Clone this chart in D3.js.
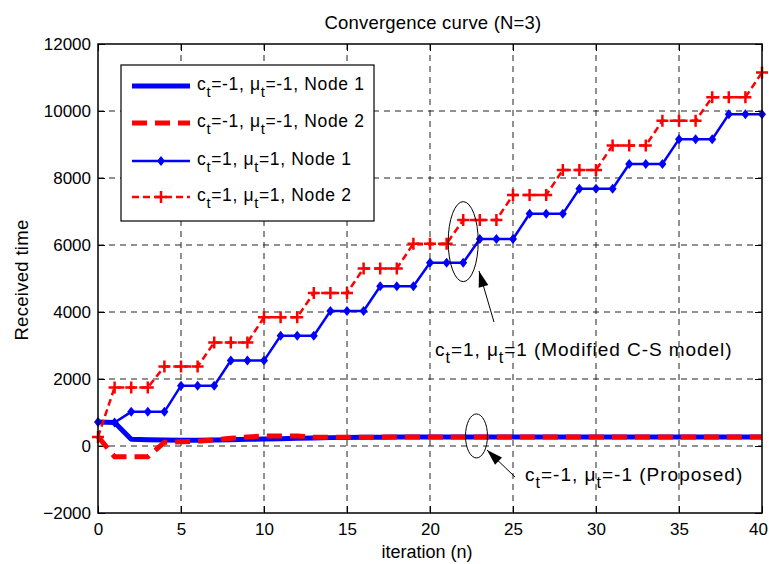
<!DOCTYPE html>
<html>
<head>
<meta charset="utf-8">
<script src="https://cdn.jsdelivr.net/npm/d3@7"></script>
<style>
  body { margin: 0; background: #fff; }
  text { font-family: "Liberation Sans", Arial, sans-serif; fill: #000; }
</style>
</head>
<body>
<svg id="chart" width="769" height="564"></svg>
<script>
// iterations 0..40
const iterations = d3.range(0, 41);

// c_t=-1, mu_t=-1 (proposed)
const proposedNode1 = [720, 700, 200, 190, 180, 170, 170, 180, 190, 200, 210, 220, 230, 240, 250, 255, 260, 260, 265, 265,
  270, 270, 270, 270, 270, 270, 270, 270, 270, 270, 270, 270, 270, 270, 270, 270, 270, 270, 270, 270, 270];
const proposedNode2 = [280, -320, -320, -320, 110, 130, 140, 180, 230, 270, 300, 300, 300, 260, 260, 260, 260, 265, 265, 265,
  270, 270, 270, 270, 270, 270, 270, 270, 270, 270, 270, 270, 270, 270, 270, 270, 270, 270, 270, 270, 270];

// c_t=1, mu_t=1 (modified C-S model)
const csNode1 = [720, 700, 1020, 1020, 1020, 1800, 1800, 1800, 2550, 2550, 2550, 3290, 3290, 3290, 4030, 4030, 4030,
  4770, 4770, 4770, 5470, 5470, 5470, 6180, 6180, 6180, 6930, 6930, 6930, 7680, 7680, 7680, 8420, 8420, 8420,
  9160, 9160, 9160, 9900, 9900, 9900];
const csNode2 = [270, 1750, 1750, 1750, 2370, 2370, 2370, 3090, 3090, 3090, 3840, 3840, 3840, 4570, 4570, 4570,
  5300, 5300, 5300, 6040, 6040, 6040, 6750, 6750, 6750, 7490, 7490, 7490, 8240, 8240, 8240, 8970, 8970, 8970,
  9710, 9710, 9710, 10410, 10410, 10410, 11150];

const xTicks = [0, 5, 10, 15, 20, 25, 30, 35, 40];
const yTicks = [-2000, 0, 2000, 4000, 6000, 8000, 10000, 12000];

const svg = d3.select('#chart');
const pL = 98, pR = 762, pT = 44, pB = 513;

const x = d3.scaleLinear().domain([0, 40]).range([pL, pR]);
const y = d3.scaleLinear().domain([-2000, 12000]).range([pB, pT]);

// grid
const grid = svg.append('g')
  .attr('stroke', '#222')
  .attr('stroke-width', 1)
  .attr('stroke-dasharray', '6,5');
grid.selectAll('line.vx')
  .data(xTicks.slice(1, -1))
  .join('line')
  .attr('class', 'vx')
  .attr('x1', d => x(d)).attr('x2', d => x(d))
  .attr('y1', pT).attr('y2', pB);
grid.selectAll('line.hy')
  .data(yTicks.slice(1, -1))
  .join('line')
  .attr('class', 'hy')
  .attr('x1', pL).attr('x2', pR)
  .attr('y1', d => y(d)).attr('y2', d => y(d));

// axes, ticks inward on all four sides
const tickLen = 7;
svg.append('g')
  .attr('class', 'xaxis')
  .attr('transform', `translate(0,${pB})`)
  .call(d3.axisBottom(x).tickValues(xTicks).tickSize(-tickLen).tickPadding(10))
  .call(g => g.select('.domain').remove());
svg.append('g')
  .attr('transform', `translate(0,${pT})`)
  .call(d3.axisTop(x).tickValues(xTicks).tickSize(-tickLen).tickFormat(''))
  .call(g => g.select('.domain').remove());
svg.append('g')
  .attr('transform', `translate(${pL},0)`)
  .call(d3.axisLeft(y).tickValues(yTicks).tickSize(-tickLen).tickPadding(7).tickFormat(d3.format('d')))
  .call(g => g.select('.domain').remove());
svg.append('g')
  .attr('transform', `translate(${pR},0)`)
  .call(d3.axisRight(y).tickValues(yTicks).tickSize(-tickLen).tickFormat(''))
  .call(g => g.select('.domain').remove());
svg.selectAll('.tick text')
  .attr('font-size', 17)
  .attr('font-family', '"Liberation Sans", Arial, sans-serif')
  .attr('fill', '#000');
svg.selectAll('.tick line').attr('stroke', '#000');
// last x label sits just inside the page edge
svg.selectAll('.xaxis .tick text').filter(d => d === 40).attr('dx', -4);

const line = d3.line()
  .x((d, i) => x(iterations[i]))
  .y(d => y(d));

const plot = svg.append('g');

plot.append('path')
  .datum(proposedNode1)
  .attr('d', line)
  .attr('fill', 'none')
  .attr('stroke', '#0000ff')
  .attr('stroke-width', 5)
  .attr('stroke-linejoin', 'round');
plot.append('path')
  .datum(proposedNode2)
  .attr('d', line)
  .attr('fill', 'none')
  .attr('stroke', '#ff0000')
  .attr('stroke-width', 5)
  .attr('stroke-dasharray', '15,8');

plot.append('path')
  .datum(csNode1)
  .attr('d', line)
  .attr('fill', 'none')
  .attr('stroke', '#0000ff')
  .attr('stroke-width', 2.5);
plot.selectAll('path.dia')
  .data(csNode1)
  .join('path')
  .attr('class', 'dia')
  .attr('transform', (d, i) => `translate(${x(iterations[i])},${y(d)})`)
  .attr('d', 'M0,-5L4,0L0,5L-4,0Z')
  .attr('fill', '#0000ff');

plot.append('path')
  .datum(csNode2)
  .attr('d', line)
  .attr('fill', 'none')
  .attr('stroke', '#ff0000')
  .attr('stroke-width', 2.5)
  .attr('stroke-dasharray', '7,4');
plot.selectAll('path.plus')
  .data(csNode2)
  .join('path')
  .attr('class', 'plus')
  .attr('transform', (d, i) => `translate(${x(iterations[i])},${y(d)})`)
  .attr('d', 'M-6,0H6M0,-6V6')
  .attr('stroke', '#ff0000')
  .attr('stroke-width', 2.5);

// frame
svg.append('rect')
  .attr('x', pL).attr('y', pT)
  .attr('width', pR - pL).attr('height', pB - pT)
  .attr('fill', 'none')
  .attr('stroke', '#000')
  .attr('stroke-width', 1.5);

// text with subscripts
function ctLabel(sel, c, mu, tail) {
  sel.append('tspan').text('c');
  sel.append('tspan').attr('dy', 7).attr('font-size', '0.85em').text('t');
  sel.append('tspan').attr('dy', -7).text(`=${c}, \u03bc`);
  sel.append('tspan').attr('dy', 7).attr('font-size', '0.85em').text('t');
  sel.append('tspan').attr('dy', -7).text(`=${mu}${tail}`);
}

// legend
const legend = svg.append('g');
legend.append('rect')
  .attr('x', 121).attr('y', 65)
  .attr('width', 253).attr('height', 156)
  .attr('fill', '#fff')
  .attr('stroke', '#000')
  .attr('stroke-width', 1.2);

const legendRows = [
  { c: '-1', mu: '-1', node: 'Node 1', color: '#0000ff', width: 5, dash: null, marker: null },
  { c: '-1', mu: '-1', node: 'Node 2', color: '#ff0000', width: 5, dash: '15,8', marker: null },
  { c: '1', mu: '1', node: 'Node 1', color: '#0000ff', width: 2.5, dash: null, marker: 'dia' },
  { c: '1', mu: '1', node: 'Node 2', color: '#ff0000', width: 2.5, dash: '7,4', marker: 'plus' }
];
const rowY = [86, 123, 161, 197];

legendRows.forEach((r, i) => {
  const yy = rowY[i];
  legend.append('line')
    .attr('x1', 132).attr('x2', 190)
    .attr('y1', yy).attr('y2', yy)
    .attr('stroke', r.color)
    .attr('stroke-width', r.width)
    .attr('stroke-dasharray', r.dash);
  if (r.marker === 'dia') {
    legend.append('path')
      .attr('transform', `translate(161,${yy})`)
      .attr('d', 'M0,-5L4,0L0,5L-4,0Z')
      .attr('fill', r.color);
  } else if (r.marker === 'plus') {
    legend.append('path')
      .attr('transform', `translate(161,${yy})`)
      .attr('d', 'M-6,0H6M0,-6V6')
      .attr('stroke', r.color)
      .attr('stroke-width', 2.5);
  }
  legend.append('text')
    .attr('x', 197).attr('y', yy + 4)
    .attr('font-size', 17.5)
    .attr('letter-spacing', 0.65)
    .call(ctLabel, r.c, r.mu, `, ${r.node}`);
});

// annotations
const ann = svg.append('g').attr('fill', 'none').attr('stroke', '#000').attr('stroke-width', 1);
ann.append('ellipse').attr('cx', x(22)).attr('cy', y(6100)).attr('rx', 15).attr('ry', 40);
ann.append('ellipse').attr('cx', x(22.8)).attr('cy', y(300)).attr('rx', 11).attr('ry', 22);

function arrow(x1, y1, x2, y2) {
  ann.append('line').attr('x1', x1).attr('y1', y1).attr('x2', x2).attr('y2', y2);
  const a = Math.atan2(y2 - y1, x2 - x1);
  const len = 16, w = 5;
  const bx = x2 - len * Math.cos(a), by = y2 - len * Math.sin(a);
  const px = -Math.sin(a) * w, py = Math.cos(a) * w;
  svg.append('path')
    .attr('d', `M${x2},${y2}L${bx + px},${by + py}L${bx - px},${by - py}Z`)
    .attr('fill', '#000');
}
arrow(494, 322, 479, 271);
arrow(515, 477, 487, 450);

svg.append('text')
  .attr('x', 435).attr('y', 356)
  .attr('font-size', 19)
  .attr('letter-spacing', 0.95)
  .call(ctLabel, '1', '1', ' (Modified C-S model)');
svg.append('text')
  .attr('x', 525).attr('y', 481)
  .attr('font-size', 19)
  .attr('letter-spacing', 1.0)
  .call(ctLabel, '-1', '-1', ' (Proposed)');

// titles
svg.append('text')
  .attr('x', 433).attr('y', 29)
  .attr('text-anchor', 'middle')
  .attr('font-size', 18.5)
  .attr('letter-spacing', 0.2)
  .text('Convergence curve (N=3)');
svg.append('text')
  .attr('x', 427).attr('y', 558)
  .attr('text-anchor', 'middle')
  .attr('font-size', 18)
  .text('iteration (n)');
svg.append('text')
  .attr('transform', 'translate(28,280) rotate(-90)')
  .attr('text-anchor', 'middle')
  .attr('font-size', 18.5)
  .attr('letter-spacing', 0.3)
  .text('Received time');
</script>
</body>
</html>
